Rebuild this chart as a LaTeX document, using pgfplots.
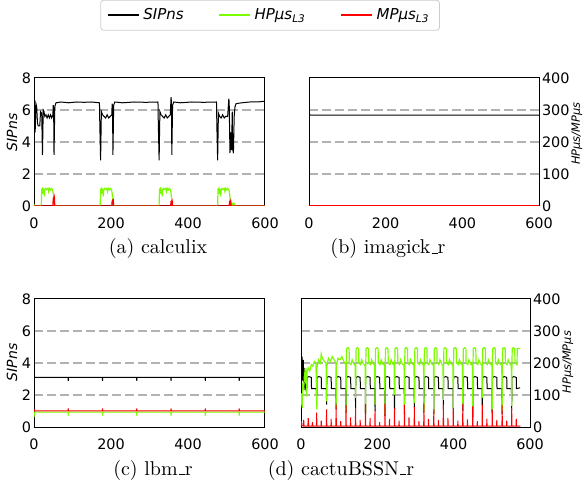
\documentclass[border=0pt]{standalone}
\usepackage{pgfplots}
\pgfplotsset{compat=1.18}
\usepackage{fontspec}
\newfontfamily\dejavu{DejaVu Sans}
\definecolor{hpgreen}{RGB}{124,252,0}
\definecolor{gridgray}{RGB}{178,178,178}
\definecolor{legframe}{RGB}{204,204,204}
\newcommand\tickfont{\dejavu\fontsize{7.2}{8}\selectfont}
\newcommand\labfont{\dejavu\itshape\fontsize{7.5}{8}\selectfont}
\newcommand\sipfont{\dejavu\itshape\fontsize{7}{8}\selectfont}
\newcommand\hpfont{\dejavu\itshape\fontsize{5.7}{7}\selectfont}
\newcommand\capfont{\fontsize{10}{12}\selectfont}
\newcommand\us{\leavevmode\kern.06em\vbox{\hrule width.3em}}
\pgfplotsset{
 base/.style={scale only axis, anchor=south west, height=64pt, xmin=0, xmax=600, ymin=0,
   tick label style={font=\tickfont}, /pgf/number format/assume math mode=true,
   axis line style={line width=0.5pt}, tick style={line width=0.5pt, black},
   major tick length=0pt,
   every axis plot/.append style={line width=0.5pt}},
 sip/.style={base, ymax=8, xtick={0,200,400,600}, tick pos=left,
   xticklabel style={yshift=-2.5pt},
   ytick={2,4,6}, ymajorgrids,
   major grid style={gridgray, dash pattern=on 4.3pt off 2.2pt, line width=1pt}},
 sipL/.style={sip, extra y ticks={0,8}, extra y tick style={grid=none},
   yticklabel style={xshift=2pt},
   ylabel={\sipfont SIPns}},
 sipR/.style={sip, yticklabels={}, ytick style={draw=none}},
 hp/.style={base, ymax=400, hide x axis},
 hpL/.style={hp, hide y axis},
 hpR/.style={hp, axis y line*=right, ytick={0,100,200,300,400},
   yticklabel style={xshift=-2pt},
   ylabel={\hpfont HPμs/MPμs}},
}
\begin{document}
\begin{tikzpicture}
\useasboundingbox (0,0) rectangle (293.5pt,-242.5pt);

%%%%%%%%%%%%%%%% (a) calculix
\begin{axis}[sipL, at={(17pt,-103pt)}, width=115.5pt,
  ylabel style={at={(axis description cs:-0.095,0.576)}, anchor=center}]
\addplot[black] coordinates {(0,5.9) (2,6.3) (3,4.6) (5,6.4) (7,6.2) (9,5.2) (11,5.0) (15,5.0) (17,5.9) (20,5.8) (22,3.2) (24,6.0) (26,5.9) (28,5.6) (31,5.7) (34,5.5) (37,5.7) (40,5.5) (43,5.7) (46,5.5) (49,5.7) (50,6.3) (51,6.1) (52,3.2) (54,6.2) (57,6.45) (70,6.5) (90,6.45) (110,6.5) (130,6.48) (150,6.5) (170,6.45) (171,5.0) (173,2.85) (175,5.9) (178,5.7) (182,5.6) (186,5.5) (190,5.7) (194,5.5) (198,5.6) (202,5.7) (203,6.4) (204,6.2) (205,3.2) (207,6.3) (210,6.5) (230,6.45) (260,6.5) (290,6.48) (322,6.5) (323,5.0) (325,2.85) (327,5.9) (330,5.7) (334,5.6) (338,5.5) (342,5.7) (346,5.5) (350,5.6) (354,5.7) (356,6.8) (357,6.5) (358,3.2) (360,6.3) (363,6.5) (380,6.45) (410,6.5) (440,6.48) (474,6.5) (475,5.0) (477,2.85) (479,5.8) (482,5.6) (486,5.5) (490,5.7) (494,5.5) (498,5.6) (503,5.6) (506,6.7) (507,6.5) (509,3.3) (511,4.6) (512,4.3) (513,3.5) (515,5.9) (516,3.6) (518,3.3) (520,5.6) (522,6.2) (525,6.4) (540,6.45) (560,6.5) (580,6.5) (600,6.55)};
\end{axis}
\begin{axis}[hpL, at={(17pt,-103pt)}, width=115.5pt,
  legend columns=3,
  legend style={at={(1.022,1.49)}, anchor=center, draw=legframe, rounded corners=1.5pt,
    font=\labfont, inner xsep=3pt, inner ysep=2pt,
    /tikz/every even column/.append style={column sep=15pt}},
  legend cell align=left,
  legend image code/.code={\draw[#1, line width=0.9pt] (0pt,0pt) -- (15.5pt,0pt);}]
\addlegendimage{color=black}
\addlegendentry{SIPns}
\addplot[color=hpgreen, line width=0.6pt] coordinates {(0,5) (2,0) (18,0)
(19,5) (20,52) (22,55) (23,38) (24,53) (26,50) (27,30) (28,48) (30,55) (33,52) (36,55) (38,45) (40,55) (43,50) (45,55) (48,52) (50,40) (52,10) (53,0) (171,0)
(172,5) (173,52) (175,55) (176,38) (177,53) (179,50) (180,30) (181,48) (183,55) (186,52) (189,55) (191,45) (193,55) (196,50) (198,55) (201,52) (203,40) (205,10) (206,0) (324,0)
(325,5) (326,52) (328,55) (329,38) (330,53) (332,50) (333,30) (334,48) (336,55) (339,52) (342,55) (344,45) (346,55) (349,50) (351,55) (354,52) (356,40) (358,10) (359,0) (476,0)
(477,5) (478,52) (480,55) (481,38) (482,53) (484,50) (485,30) (486,48) (488,55) (491,52) (494,55) (496,45) (498,55) (501,50) (503,55) (506,52) (508,40) (510,10) (511,0) (513,8) (515,2) (517,9) (519,3) (521,6) (523,0) (600,0)};
\addlegendentry{HPμs\textsubscript{L3}}
\addplot[color=red, line width=0.6pt] coordinates {(0,0) (49,0) (50,22) (51,25) (52,18) (53,24) (54,0) (202,0) (203,15) (204,17) (205,12) (206,16) (207,0) (355,0) (356,14) (357,15) (358,10) (359,14) (360,0) (507,0) (508,13) (509,15) (510,9) (511,14) (512,0) (600,0)};
\addlegendentry{MPμs\textsubscript{L3}}
\end{axis}

%%%%%%%%%%%%%%%% (b) imagick_r
\begin{axis}[sipR, at={(154.5pt,-103pt)}, width=115pt]
\addplot[black] coordinates {(0,5.75) (2,5.7) (5,5.68) (600,5.68)};
\end{axis}
\begin{axis}[hpR, at={(154.5pt,-103pt)}, width=115pt,
  ylabel style={at={(axis description cs:1.165,0.566)}, anchor=center}]
\addplot[color=hpgreen, line width=0.6pt] coordinates {(0,1) (600,1)};
\addplot[color=red] coordinates {(0,0.5) (600,0.5)};
\end{axis}

%%%%%%%%%%%%%%%% (c) lbm_r
\begin{axis}[sipL, at={(17pt,-213.5pt)}, width=115.5pt,
  ylabel style={at={(axis description cs:-0.095,0.506)}, anchor=center}]
\addplot[black] coordinates {(0,3.1) (88.5,3.1) (89,2.88) (89.5,3.1) (177.5,3.1) (178,2.88) (178.5,3.1) (266.5,3.1) (267,2.88) (267.5,3.1) (355.5,3.1) (356,2.88) (356.5,3.1) (444.5,3.1) (445,2.88) (445.5,3.1) (532.5,3.1) (533,2.88) (533.5,3.1) (600,3.1)};
\end{axis}
\begin{axis}[hpL, at={(17pt,-213.5pt)}, width=115.5pt]
\addplot[color=hpgreen, line width=0.6pt] coordinates {(0,30) (1,46.5) (88.5,46.5) (89,36) (89.5,46.5) (177.5,46.5) (178,36) (178.5,46.5) (266.5,46.5) (267,36) (267.5,46.5) (355.5,46.5) (356,36) (356.5,46.5) (444.5,46.5) (445,36) (445.5,46.5) (532.5,46.5) (533,36) (533.5,46.5) (600,46.5)};
\addplot[color=red] coordinates {(0,56) (1,50.5) (88.5,50.5) (89,58) (89.5,50.5) (177.5,50.5) (178,58) (178.5,50.5) (266.5,50.5) (267,58) (267.5,50.5) (355.5,50.5) (356,58) (356.5,50.5) (444.5,50.5) (445,58) (445.5,50.5) (532.5,50.5) (533,58) (533.5,50.5) (600,50.5)};
\end{axis}

%%%%%%%%%%%%%%%% (d) cactuBSSN_r
\begin{axis}[sipR, at={(150.5pt,-213.5pt)}, width=114.5pt]
\addplot[black] coordinates {(0,4.5) (1,4.6) (2,3.6) (3,4.4) (4,2.9) (5,3.9) (6,4.2) (7,2.6) (8,3.7) (9,3.2) (10,2.3) (11,3.5) (13,3.0) (14,2.2) (15,2.4) (16,3.1) (21,3.15) (27,3.1) (27.6,2.4)
(40.4,2.4) (41,1.3) (41.6,3.1) (47,3.15) (53,3.1) (53.6,2.4)
(66.4,2.4) (67,1.4) (67.6,3.1) (73,3.15) (79,3.1) (79.6,2.4)
(91.4,2.4) (92,1.1) (92.6,3.1) (98,3.15) (104,3.1) (104.6,2.4)
(117.4,2.4) (118,0.9) (118.6,3.1) (124,3.15) (130,3.1) (130.6,2.4)
(142.4,2.4) (143,1.2) (143.6,3.1) (149,3.15) (155,3.1) (155.6,2.4)
(168.4,2.4) (169,0.8) (169.6,3.1) (175,3.15) (181,3.1) (181.6,2.4)
(193.4,2.4) (194,1.0) (194.6,3.1) (200,3.15) (206,3.1) (206.6,2.4)
(219.4,2.4) (220,0.7) (220.6,3.1) (226,3.15) (232,3.1) (232.6,2.4)
(244.4,2.4) (245,1.1) (245.6,3.1) (251,3.15) (257,3.1) (257.6,2.4)
(270.4,2.4) (271,0.8) (271.6,3.1) (277,3.15) (283,3.1) (283.6,2.4)
(296.4,2.4) (297,1.2) (297.6,3.1) (303,3.15) (309,3.1) (309.6,2.4)
(321.4,2.4) (322,0.9) (322.6,3.1) (328,3.15) (334,3.1) (334.6,2.4)
(347.4,2.4) (348,0.8) (348.6,3.1) (354,3.15) (360,3.1) (360.6,2.4)
(372.4,2.4) (373,1.1) (373.6,3.1) (379,3.15) (385,3.1) (385.6,2.4)
(398.4,2.4) (399,0.9) (399.6,3.1) (405,3.15) (411,3.1) (411.6,2.4)
(423.4,2.4) (424,1.0) (424.6,3.1) (430,3.15) (436,3.1) (436.6,2.4)
(449.4,2.4) (450,0.6) (450.6,3.1) (456,3.15) (462,3.1) (462.6,2.4)
(474.4,2.4) (475,1.1) (475.6,3.1) (481,3.15) (487,3.1) (487.6,2.4)
(500.4,2.4) (501,0.9) (501.6,3.1) (507,3.15) (513,3.1) (513.6,2.4)
(526.4,2.4) (527,0.8) (527.6,3.1) (533,3.15) (539,3.1) (539.6,2.4)
(551.4,2.4) (552,1.0) (552.6,3.1) (558,3.15) (564,3.1) (564.6,2.4) (574,2.45)};
\end{axis}
\begin{axis}[hpR, at={(150.5pt,-213.5pt)}, width=114.5pt,
  ylabel style={at={(axis description cs:1.166,0.506)}, anchor=center}]
\addplot[color=hpgreen, line width=0.6pt] coordinates {(0,70) (2,105) (3,60) (5,140) (7,115) (9,165) (11,150) (13,185) (15,95) (16,170) (19,185) (23,175) (27,195) (31,190) (35,205) (39,200) (40.4,130)
(41,55) (41.6,185) (46,210) (51,200) (53,228) (56,215) (61,205) (65.6,200) (66.4,130)
(67,80) (67.6,190) (72,215) (77,205) (82,220) (87,210) (91.4,200) (91.8,140)
(92,60) (92.6,190) (97,215) (102,210) (107,220) (112,205) (117,195) (117.5,130)
(118,50) (118.6,190) (119.4,245) (123,248) (126,244) (126.6,200) (131,195) (134,210) (138,198) (142,192) (142.6,130)
(143,90) (143.6,190) (144.4,245) (148,248) (151,244) (151.6,200) (156,195) (159,210) (163,198) (168,192) (168.6,130)
(169,45) (169.6,190) (170.4,245) (174,248) (177,244) (177.6,200) (182,195) (185,210) (189,198) (193,192) (193.6,130)
(194,70) (194.6,190) (195.4,245) (199,248) (202,244) (202.6,200) (207,195) (210,210) (214,198) (219,192) (219.6,130)
(220,40) (220.6,190) (221.4,245) (225,248) (228,244) (228.6,200) (233,195) (236,210) (240,198) (244,192) (244.6,130)
(245,100) (245.6,190) (246.4,245) (250,248) (253,244) (253.6,200) (258,195) (261,210) (265,198) (270,192) (270.6,130)
(271,55) (271.6,190) (272.4,245) (276,248) (279,244) (279.6,200) (284,195) (287,210) (291,198) (296,192) (296.6,130)
(297,75) (297.6,190) (298.4,245) (302,248) (305,244) (305.6,200) (310,195) (313,210) (317,198) (321,192) (321.6,130)
(322,50) (322.6,190) (323.4,245) (327,248) (330,244) (330.6,200) (335,195) (338,210) (342,198) (347,192) (347.6,130)
(348,45) (348.6,190) (349.4,245) (353,248) (356,244) (356.6,200) (361,195) (364,210) (368,198) (372,192) (372.6,130)
(373,85) (373.6,190) (374.4,245) (378,248) (381,244) (381.6,200) (386,195) (389,210) (393,198) (398,192) (398.6,130)
(399,60) (399.6,190) (400.4,245) (404,248) (407,244) (407.6,200) (412,195) (415,210) (419,198) (423,192) (423.6,130)
(424,70) (424.6,190) (425.4,245) (429,248) (432,244) (432.6,200) (437,195) (440,210) (444,198) (449,192) (449.6,130)
(450,40) (450.6,190) (451.4,245) (455,248) (458,244) (458.6,200) (463,195) (466,210) (470,198) (474,192) (474.6,130)
(475,90) (475.6,190) (476.4,245) (480,248) (483,244) (483.6,200) (488,195) (491,210) (495,198) (500,192) (500.6,130)
(501,55) (501.6,190) (502.4,245) (506,248) (509,244) (509.6,200) (514,195) (517,210) (521,198) (526,192) (526.6,130)
(527,50) (527.6,190) (528.4,245) (532,248) (535,244) (535.6,200) (540,195) (543,210) (547,198) (551,192) (551.6,130)
(552,65) (552.6,190) (553.4,245) (557,248) (560,244) (560.6,200) (566,195) (566.6,245) (575,245)};
\addplot[color=red] coordinates {(0,4) (1,18) (2,4) (6,3) (7,22) (8,3) (18,3) (19,28) (20,3) (29,3) (30,15) (31,3)
(40.5,3) (41,45) (41.5,6) (42.5,3) (52.5,3) (53,20) (53.5,3)
(66.5,3) (67,55) (67.5,6) (68.5,3) (78.5,3) (79,25) (79.5,3)
(91.5,3) (92,70) (92.5,6) (93.5,3) (103.5,3) (104,18) (104.5,3)
(117.5,3) (118,68) (118.5,6) (119.5,3) (129.5,3) (130,30) (130.5,3)
(142.5,3) (143,60) (143.5,6) (144.5,3) (154.5,3) (155,22) (155.5,3)
(168.5,3) (169,72) (169.5,6) (170.5,3) (180.5,3) (181,28) (181.5,3)
(193.5,3) (194,55) (194.5,6) (195.5,3) (205.5,3) (206,15) (206.5,3)
(219.5,3) (220,73) (220.5,6) (221.5,3) (231.5,3) (232,25) (232.5,3)
(244.5,3) (245,58) (245.5,6) (246.5,3) (256.5,3) (257,20) (257.5,3)
(270.5,3) (271,70) (271.5,6) (272.5,3) (282.5,3) (283,30) (283.5,3)
(296.5,3) (297,62) (297.5,6) (298.5,3) (308.5,3) (309,18) (309.5,3)
(321.5,3) (322,72) (322.5,6) (323.5,3) (333.5,3) (334,25) (334.5,3)
(347.5,3) (348,55) (348.5,6) (349.5,3) (359.5,3) (360,22) (360.5,3)
(372.5,3) (373,70) (373.5,6) (374.5,3) (384.5,3) (385,28) (385.5,3)
(398.5,3) (399,60) (399.5,6) (400.5,3) (410.5,3) (411,20) (411.5,3)
(423.5,3) (424,73) (424.5,6) (425.5,3) (435.5,3) (436,24) (436.5,3)
(449.5,3) (450,65) (450.5,6) (451.5,3) (461.5,3) (462,18) (462.5,3)
(474.5,3) (475,70) (475.5,6) (476.5,3) (486.5,3) (487,26) (487.5,3)
(500.5,3) (501,55) (501.5,6) (502.5,3) (512.5,3) (513,22) (513.5,3)
(526.5,3) (527,68) (527.5,6) (528.5,3) (538.5,3) (539,20) (539.5,3)
(551.5,3) (552,60) (552.5,6) (553.5,3) (563.5,3) (564,25) (564.5,3) (575,3)};
\end{axis}

%%%%%%%%%%%%%%%% captions
\node[anchor=base, font=\capfont] at (79pt,-127pt) {(a) calculix};
\node[anchor=base, font=\capfont] at (194pt,-127pt) {(b) imagick\us r};
\node[anchor=base, font=\capfont] at (76.5pt,-237.5pt) {(c) lbm\us r};
\node[anchor=base, font=\capfont] at (170.5pt,-237.5pt) {(d) cactuBSSN\us r};
\end{tikzpicture}
\end{document}
